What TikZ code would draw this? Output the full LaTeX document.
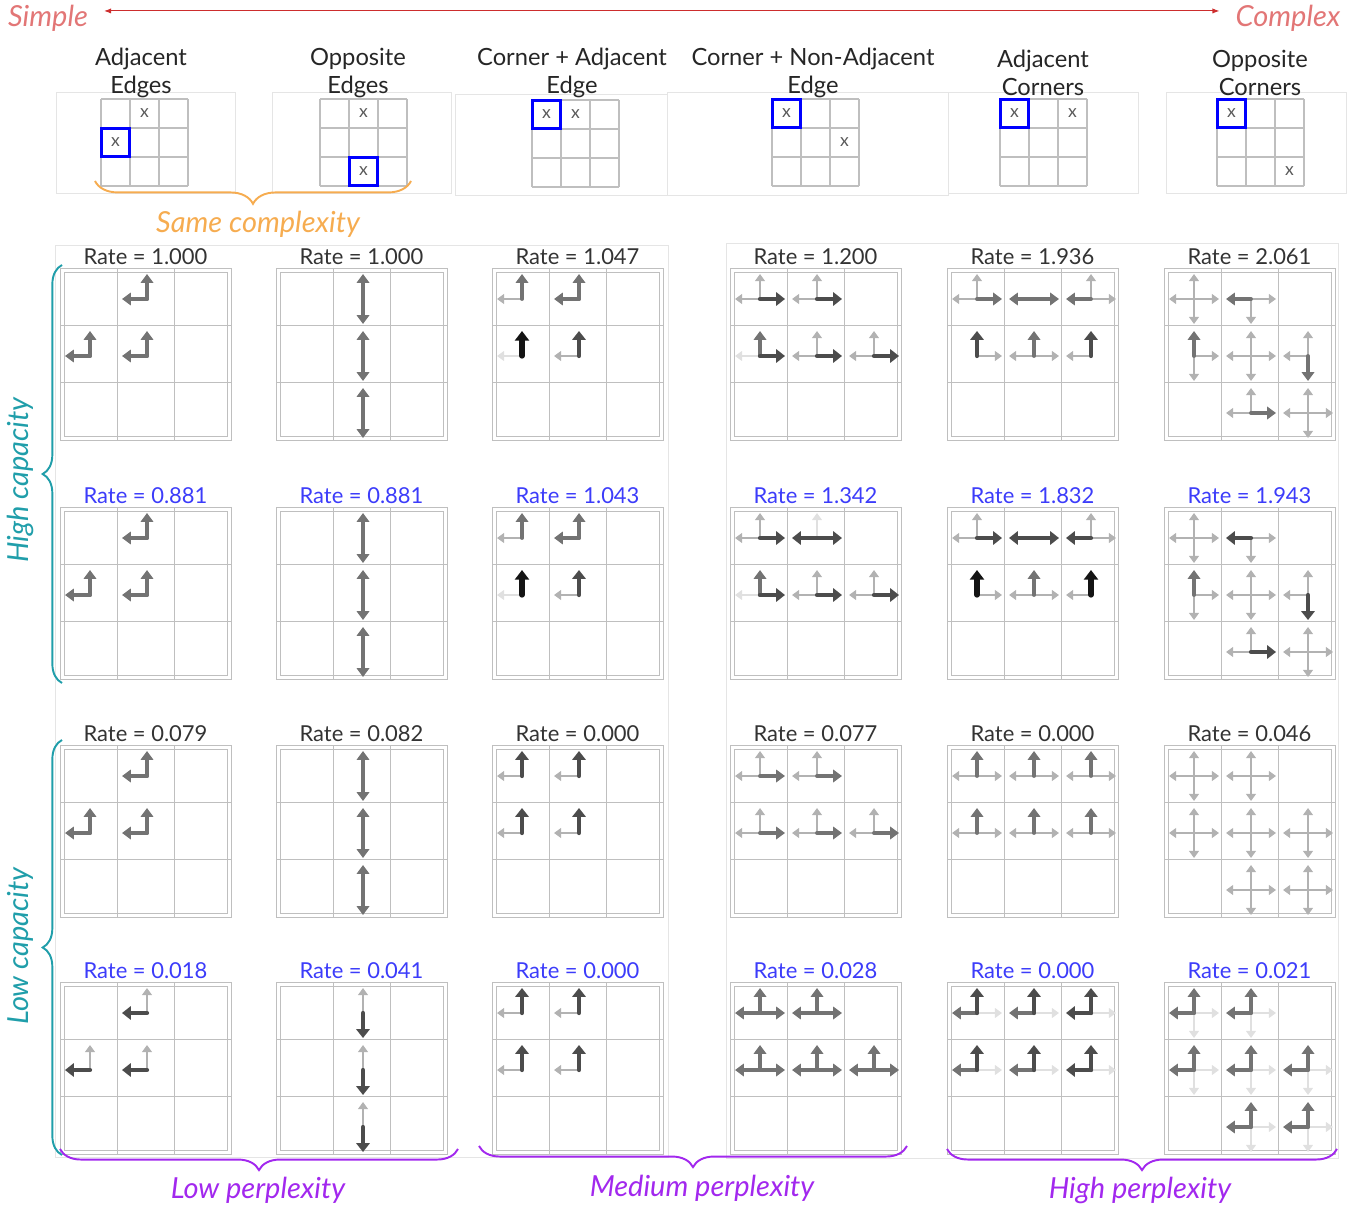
\documentclass[tikz,border=0pt]{standalone}
\usepackage{fontspec}
\setmainfont{Lato}
\usepackage{xcolor}
\usepackage{tikz}
\usetikzlibrary{arrows.meta,positioning,calc,decorations.pathreplacing}
\definecolor{CXred}{RGB}{205,45,45}
\definecolor{CXpink}{RGB}{226,118,118}
\definecolor{CXorange}{RGB}{246,172,80}
\definecolor{CXteal}{RGB}{32,158,170}
\definecolor{CXpurple}{RGB}{162,40,238}
\definecolor{CXblue}{RGB}{60,60,250}

\def\colxs{{60,276,492,730,947,1164}}
\def\rowys{{268,507,745,982}}

% arrows leaving the centre of cell (#1,#2); #3 is a list angle/shade
\newcommand{\moves}[3]{%
  \foreach \ang/\shd in {#3}
    \draw[\shd] ({57*#1+30},{57*#2+31}) -- ++(\ang:25);%
}
% empty 3x3 board with its double frame
\newcommand{\board}{%
  \draw[boardln] (0,0) rectangle (171,172);
  \draw[boardln] (4,4) rectangle (167,168);
  \foreach \k in {1,2} {
    \draw[boardln] ({57*\k},0) -- ({57*\k},172);
    \draw[boardln] (0,{57*\k}) -- (171,{57*\k});
  }%
}
% one result: column, row, label style, rate, arrows
\newcommand{\panel}[5]{%
  \begin{scope}[shift={({\colxs[#1-1]},{\rowys[#2-1]})}]
    \board
    \node[rate,#3] (rate-#2-#1) at (85.5,-11) {Rate = #4};
    #5
  \end{scope}%
}
% task sketch: name, origin, boxed cell, other cell
\newcommand{\minigrid}[7]{%
  \begin{scope}[shift={(#2,#3)}]
    \foreach \k in {0,...,3} {
      \draw[miniln] ({29*\k},0) -- ({29*\k},87);
      \draw[miniln] (0,{29*\k}) -- (87,{29*\k});
    }
    \node[xlab] (#1-b) at ({29*#6+14.5},{29*#7+14.5}) {x};
    \node[xlab,pick] (#1-a) at ({29*#4+14.5},{29*#5+14.5}) {x};
  \end{scope}%
}

\begin{document}
\begin{tikzpicture}[x=0.02cm,y=-0.02cm,
    boardln/.style={draw=black!25,line width=0.5pt},
    miniln/.style={draw=black!25,line width=0.6pt},
    faintbox/.style={draw=black!10,line width=0.5pt},
    aF/.style={draw=black!12,line width=1.4pt,line cap=round,-{Triangle[length=4pt,width=5.5pt]}},
    aL/.style={draw=black!30,line width=1.4pt,line cap=round,-{Triangle[length=4pt,width=5.5pt]}},
    aM/.style={draw=black!55,line width=2.2pt,line cap=round,-{Triangle[length=5pt,width=7pt]}},
    aD/.style={draw=black!70,line width=2.4pt,line cap=round,-{Triangle[length=5pt,width=7.5pt]}},
    aB/.style={draw=black!92,line width=3pt,line cap=round,-{Triangle[length=5.5pt,width=8pt]}},
    rate/.style={font=\fontsize{12.5}{14}\selectfont,text=black!80,inner sep=0pt},
    bluetxt/.style={text=CXblue},
    head/.style={font=\fontsize{13.5}{16}\selectfont,align=center,text=black!85,inner sep=0pt},
    xlab/.style={font=\fontsize{10}{10}\selectfont,text=black!65,inner sep=0pt,minimum size=16.4pt},
    pick/.style={draw=blue,line width=1.7pt},
    tag/.style={font=\fontsize{16.5}{18}\selectfont\itshape,inner sep=0pt},
    brc/.style={decorate,decoration={brace,amplitude=#1},line width=1.1pt},
    brcm/.style={brc=#1,decoration={mirror}}
  ]
  \useasboundingbox (0,0) rectangle (1356,1206);

  % faint frames
  \draw[faintbox] (56,92) rectangle (235,193);
  \draw[faintbox] (272,92) rectangle (451,193);
  \draw[faintbox] (455,94) rectangle (667,195);
  \draw[faintbox] (667,92) rectangle (948,195);
  \draw[faintbox] (948,92) rectangle (1138,193);
  \draw[faintbox] (1166,92) rectangle (1346,193);
  \draw[faintbox] (55,245) rectangle (668,1157);
  \draw[faintbox] (726,243) rectangle (1338,1158);

  % complexity axis
  \node[tag,text=CXpink] (simple) at (48,18) {Simple};
  \node[tag,text=CXpink] (complex) at (1288,18) {Complex};
  \draw[CXred,line width=0.6pt,{Latex[length=4pt]}-{Latex[length=4pt]}]
    ([xshift=9pt,yshift=4pt]simple.east) -- ([xshift=-9pt,yshift=4pt]complex.west);

  % task sketches
  \node[head] (h-ae) at (141,73) {Adjacent\\Edges};
  \node[head] (h-oe) at (358,73) {Opposite\\Edges};
  \node[head] (h-ca) at (572,73) {Corner + Adjacent\\Edge};
  \node[head] (h-cn) at (813,73) {Corner + Non-Adjacent\\Edge};
  \node[head] (h-ac) at (1043,73) {Adjacent\\Corners};
  \node[head] (h-oc) at (1260,73) {Opposite\\Corners};
  \minigrid{ae}{101}{99}{0}{1}{1}{0}
  \minigrid{oe}{320}{99}{1}{2}{1}{0}
  \minigrid{ca}{532}{100}{0}{0}{1}{0}
  \minigrid{cn}{772}{99}{0}{0}{2}{1}
  \minigrid{ac}{1000}{99}{0}{0}{2}{0}
  \minigrid{oc}{1217}{99}{0}{0}{2}{2}

  \coordinate (sc-l) at (95,181);
  \coordinate (sc-r) at (411,181);
  \draw[brcm=13pt,draw=CXorange] (sc-l) -- (sc-r);
  \node[tag,text=CXorange] (samecx) at (258,224) {Same complexity};

  % high capacity
  \panel{1}{1}{}{1.000}{\foreach \i/\j in {1/0,0/1,1/1}{\moves{\i}{\j}{270/aM,180/aM}}}
  \panel{2}{1}{}{1.000}{\foreach \j in {0,1,2}{\moves{1}{\j}{270/aM,90/aM}}}
  \panel{3}{1}{}{1.047}{\moves{0}{0}{180/aL,270/aM}\moves{1}{0}{180/aM,270/aM}\moves{0}{1}{180/aF,270/aB}\moves{1}{1}{180/aL,270/aD}}
  \panel{4}{1}{}{1.200}{\moves{0}{0}{270/aL,180/aL,0/aD}\moves{1}{0}{270/aL,180/aL,0/aD}\moves{0}{1}{180/aF,270/aM,0/aD}\moves{1}{1}{270/aL,180/aL,0/aD}\moves{2}{1}{270/aL,180/aL,0/aD}}
  \panel{5}{1}{}{1.936}{\moves{0}{0}{270/aL,180/aL,0/aM}\moves{1}{0}{180/aM,0/aM}\moves{2}{0}{270/aL,0/aL,180/aM}\moves{0}{1}{0/aL,270/aD}\moves{1}{1}{180/aL,0/aL,270/aM}\moves{2}{1}{180/aL,270/aD}}
  \panel{6}{1}{}{2.061}{\foreach \i/\j in {0/0,1/1,2/2}{\moves{\i}{\j}{0/aL,90/aL,180/aL,270/aL}}\moves{1}{0}{0/aL,90/aL,180/aM}\moves{0}{1}{0/aL,90/aL,270/aM}\moves{2}{1}{180/aL,270/aL,90/aM}\moves{1}{2}{180/aL,270/aL,0/aM}}

  \panel{1}{2}{bluetxt}{0.881}{\foreach \i/\j in {1/0,0/1,1/1}{\moves{\i}{\j}{270/aM,180/aM}}}
  \panel{2}{2}{bluetxt}{0.881}{\foreach \j in {0,1,2}{\moves{1}{\j}{270/aM,90/aM}}}
  \panel{3}{2}{bluetxt}{1.043}{\moves{0}{0}{180/aL,270/aM}\moves{1}{0}{180/aM,270/aM}\moves{0}{1}{180/aF,270/aB}\moves{1}{1}{180/aL,270/aD}}
  \panel{4}{2}{bluetxt}{1.342}{\moves{0}{0}{270/aL,180/aL,0/aD}\moves{1}{0}{270/aF,180/aD,0/aD}\moves{0}{1}{180/aF,270/aM,0/aD}\moves{1}{1}{270/aL,180/aL,0/aD}\moves{2}{1}{270/aL,180/aL,0/aD}}
  \panel{5}{2}{bluetxt}{1.832}{\moves{0}{0}{270/aL,180/aL,0/aD}\moves{1}{0}{180/aD,0/aD}\moves{2}{0}{270/aL,0/aL,180/aD}\moves{0}{1}{0/aL,270/aB}\moves{1}{1}{180/aL,0/aL,270/aM}\moves{2}{1}{180/aL,270/aB}}
  \panel{6}{2}{bluetxt}{1.943}{\foreach \i/\j in {0/0,1/1,2/2}{\moves{\i}{\j}{0/aL,90/aL,180/aL,270/aL}}\moves{1}{0}{0/aL,90/aL,180/aD}\moves{0}{1}{0/aL,90/aL,270/aM}\moves{2}{1}{180/aL,270/aL,90/aD}\moves{1}{2}{180/aL,270/aL,0/aD}}

  % low capacity
  \panel{1}{3}{}{0.079}{\foreach \i/\j in {1/0,0/1,1/1}{\moves{\i}{\j}{270/aM,180/aM}}}
  \panel{2}{3}{}{0.082}{\foreach \j in {0,1,2}{\moves{1}{\j}{270/aM,90/aM}}}
  \panel{3}{3}{}{0.000}{\foreach \i/\j in {0/0,1/0,0/1,1/1}{\moves{\i}{\j}{180/aL,270/aD}}}
  \panel{4}{3}{}{0.077}{\foreach \i/\j in {0/0,1/0,0/1,1/1,2/1}{\moves{\i}{\j}{270/aL,180/aL,0/aM}}}
  \panel{5}{3}{}{0.000}{\foreach \i/\j in {0/0,1/0,2/0,0/1,1/1,2/1}{\moves{\i}{\j}{180/aL,0/aL,270/aM}}}
  \panel{6}{3}{}{0.046}{\foreach \i/\j in {0/0,1/0,0/1,1/1,2/1,1/2,2/2}{\moves{\i}{\j}{0/aL,90/aL,180/aL,270/aL}}}

  \panel{1}{4}{bluetxt}{0.018}{\foreach \i/\j in {1/0,0/1,1/1}{\moves{\i}{\j}{270/aL,180/aD}}}
  \panel{2}{4}{bluetxt}{0.041}{\foreach \j in {0,1,2}{\moves{1}{\j}{270/aL,90/aD}}}
  \panel{3}{4}{bluetxt}{0.000}{\foreach \i/\j in {0/0,1/0,0/1,1/1}{\moves{\i}{\j}{180/aL,270/aD}}}
  \panel{4}{4}{bluetxt}{0.028}{\foreach \i/\j in {0/0,1/0,0/1,1/1,2/1}{\moves{\i}{\j}{180/aM,0/aM,270/aM}}}
  \panel{5}{4}{bluetxt}{0.000}{\foreach \i/\j in {0/0,1/0,0/1,1/1}{\moves{\i}{\j}{0/aF,180/aM,270/aD}}\foreach \j in {0,1}{\moves{2}{\j}{0/aF,180/aD,270/aD}}}
  \panel{6}{4}{bluetxt}{0.021}{\foreach \i/\j in {0/0,1/0,0/1,1/1,2/1,1/2,2/2}{\moves{\i}{\j}{0/aF,90/aF,180/aM,270/aM}}}

  % capacity braces
  \coordinate (hc-t) at (62,265);
  \coordinate (hc-b) at (62,683);
  \coordinate (lc-t) at (62,740);
  \coordinate (lc-b) at (62,1155);
  \draw[brc=11pt,draw=CXteal] (hc-b) -- (hc-t);
  \draw[brc=11pt,draw=CXteal] (lc-b) -- (lc-t);
  \node[tag,text=CXteal,rotate=90] (hicap) at (20,480) {High capacity};
  \node[tag,text=CXteal,rotate=90] (locap) at (20,946) {Low capacity};

  % perplexity braces
  \coordinate (lp-l) at (60,1149);
  \coordinate (lp-r) at (458,1149);
  \coordinate (mp-l) at (479,1146);
  \coordinate (mp-r) at (907,1146);
  \coordinate (hp-l) at (947,1149);
  \coordinate (hp-r) at (1337,1149);
  \draw[brcm=12pt,draw=CXpurple] (lp-l) -- (lp-r);
  \draw[brcm=12pt,draw=CXpurple] (mp-l) -- (mp-r);
  \draw[brcm=12pt,draw=CXpurple] (hp-l) -- (hp-r);
  \node[tag,text=CXpurple] (loppl) at (258,1190) {Low perplexity};
  \node[tag,text=CXpurple] (mdppl) at (702,1188) {Medium perplexity};
  \node[tag,text=CXpurple] (hippl) at (1140,1190) {High perplexity};
\end{tikzpicture}
\end{document}
